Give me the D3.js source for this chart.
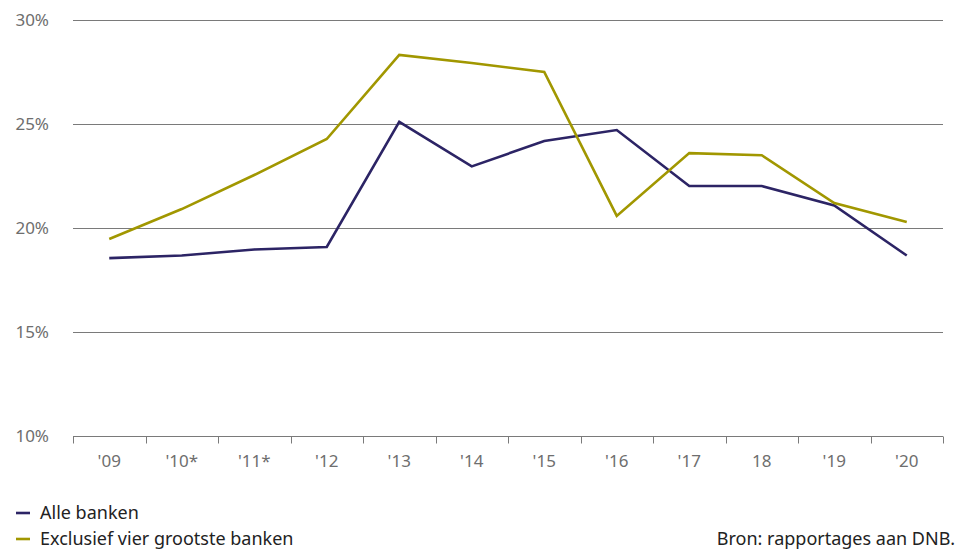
<!DOCTYPE html>
<html>
<head>
<meta charset="utf-8">
<script src="https://cdn.jsdelivr.net/npm/d3@7"></script>
<style>
  html, body { margin: 0; padding: 0; background: #fff; }
  svg { display: block; font-family: "Noto Sans", "Open Sans", sans-serif; }
</style>
</head>
<body>
<svg id="chart" width="956" height="550"></svg>
<script>
// Years on the x axis
const years = ["'09", "'10*", "'11*", "'12", "'13", "'14", "'15", "'16", "'17", "18", "'19", "'20"];
// Share (%) for all banks
const alleBanken = [18.55, 18.68, 18.97, 19.09, 25.1, 22.96, 24.18, 24.71, 22.02, 22.02, 21.08, 18.68];
// Share (%) excluding the four largest banks
const exclusiefVier = [19.47, 20.91, 22.55, 24.28, 28.32, 27.93, 27.5, 20.58, 23.6, 23.5, 21.2, 20.29];
// Y axis ticks
const yTicks = [10, 15, 20, 25, 30];

const series = [
  { name: "Alle banken", values: alleBanken, color: "#2c2465" },
  { name: "Exclusief vier grootste banken", values: exclusiefVier, color: "#a19700" }
];

const svg = d3.select("#chart");
const plotLeft = 73, plotRight = 943, plotTop = 20, plotBottom = 436;

const x = d3.scaleBand().domain(years).range([plotLeft, plotRight]);
const y = d3.scaleLinear().domain([10, 30]).range([plotBottom, plotTop]);

// Horizontal gridlines
svg.append("g").selectAll("line")
  .data(yTicks.filter(t => t > 10))
  .join("line")
  .attr("x1", plotLeft).attr("x2", plotRight)
  .attr("y1", d => Math.round(y(d)) + 0.5).attr("y2", d => Math.round(y(d)) + 0.5)
  .attr("stroke", "#7a7a7a").attr("stroke-width", 1);

// Y labels
svg.append("g").selectAll("text")
  .data(yTicks)
  .join("text")
  .attr("x", 49).attr("y", d => y(d) + 6)
  .attr("text-anchor", "end")
  .attr("fill", "#6e6e6e")
  .attr("font-size", 17)
  .text(d => d + "%");

// X axis with tick marks between categories
const gx = svg.append("g").attr("transform", `translate(0,${plotBottom + 0.5})`);
gx.append("line").attr("x1", plotLeft).attr("x2", plotRight).attr("stroke", "#7a7a7a");
const edges = years.map(d => x(d)).concat([plotRight]);
gx.selectAll("line.tick")
  .data(edges)
  .join("line")
  .attr("class", "tick")
  .attr("x1", d => Math.round(d) + 0.5).attr("x2", d => Math.round(d) + 0.5)
  .attr("y1", 0).attr("y2", 7)
  .attr("stroke", "#7a7a7a");
gx.selectAll("text")
  .data(years)
  .join("text")
  .attr("x", d => x(d) + x.bandwidth() / 2)
  .attr("y", 30)
  .attr("text-anchor", "middle")
  .attr("fill", "#6e6e6e")
  .attr("font-size", 17)
  .text(d => d);

// Lines
const line = d3.line()
  .x((d, i) => x(years[i]) + x.bandwidth() / 2)
  .y(d => y(d));

svg.append("g").selectAll("path")
  .data(series)
  .join("path")
  .attr("d", d => line(d.values))
  .attr("fill", "none")
  .attr("stroke", d => d.color)
  .attr("stroke-width", 2.6)
  .attr("stroke-linejoin", "miter");

// Legend
const lg = svg.append("g").selectAll("g")
  .data(series)
  .join("g")
  .attr("transform", (d, i) => `translate(0,${513 + i * 26})`);
lg.append("line")
  .attr("x1", 16).attr("x2", 30)
  .attr("stroke", d => d.color).attr("stroke-width", 2.6);
lg.append("text")
  .attr("x", 40).attr("y", 6)
  .attr("fill", "#222")
  .attr("font-size", 18)
  .text(d => d.name);

// Source note
svg.append("text")
  .attr("x", 955).attr("y", 545)
  .attr("text-anchor", "end")
  .attr("fill", "#222")
  .attr("font-size", 18)
  .text("Bron: rapportages aan DNB.");
</script>
</body>
</html>
